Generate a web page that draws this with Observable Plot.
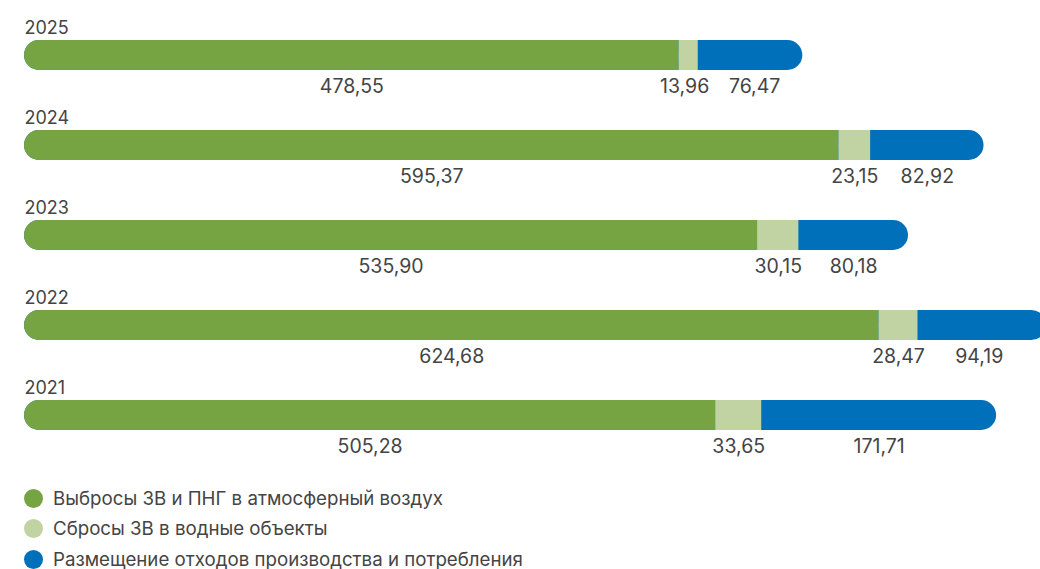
<!DOCTYPE html>
<html>
<head>
<meta charset="utf-8">
<script src="https://cdn.jsdelivr.net/npm/d3@7"></script>
<script src="https://cdn.jsdelivr.net/npm/@observablehq/plot@0.6"></script>
<style>
  html, body { margin: 0; padding: 0; background: #fff; overflow: hidden; }
  #chart { width: 1040px; }
  .legend { font-family: Inter, sans-serif; font-size: 18.7px; color: #444; padding-top: 21px; }
  .legend .item { display: flex; align-items: center; height: 30.5px; }
  .legend .dot { width: 19px; height: 19px; border-radius: 50%; margin-left: 24px; margin-right: 10px; flex: none; }
</style>
</head>
<body>
<div id="chart"></div>
<script>
const years = ["2025", "2024", "2023", "2022", "2021"];
const emissions = [478.55, 595.37, 535.90, 624.68, 505.28];
const discharges = [13.96, 23.15, 30.15, 28.47, 33.65];
const waste = [76.47, 82.92, 80.18, 94.19, 171.71];
const seriesNames = [
  "Выбросы ЗВ и ПНГ в атмосферный воздух",
  "Сбросы ЗВ в водные объекты",
  "Размещение отходов производства и потребления"
];
const colors = ["#76a443", "#c2d3a3", "#0070ba"];

const W = 1040, H = 462, ML = 24, MR = 0;
const xMax = 742.7;
const k = (W - ML - MR) / xMax; // px per unit
const fmt = v => v.toFixed(2).replace(".", ",");

const rows = years.map((year, i) => ({
  year,
  a: emissions[i],
  b: discharges[i],
  c: waste[i],
  total: emissions[i] + discharges[i] + waste[i]
}));

// value labels centered under visible part of each segment, nudged apart if too close
const labels = [];
for (const r of rows) {
  const segs = [
    [0, r.a, r.a],
    [r.a, r.a + r.b, r.b],
    [r.a + r.b, r.total, r.c]
  ].map(([x1, x2, v]) => ({ year: r.year, x: (x1 + Math.min(x2, xMax)) / 2, text: fmt(v) }));
  const wEst = s => s.text.length * 10.2;
  const minGap = 19;
  const gap = (segs[2].x - segs[1].x) * k - (wEst(segs[1]) + wEst(segs[2])) / 2;
  if (gap < minGap) {
    const shift = (minGap - gap) / 2 / k;
    segs[1].x -= shift;
    segs[2].x += shift;
  }
  labels.push(...segs);
}

const txt = "#444444";
const plot = Plot.plot({
  width: W,
  height: H,
  marginLeft: ML,
  marginRight: MR,
  marginTop: 38,
  marginBottom: 30,
  style: { fontFamily: "Inter, sans-serif", background: "#fff" },
  x: { domain: [0, xMax], axis: null },
  y: { domain: years, axis: null, paddingInner: 0.6703, paddingOuter: 0 },
  marks: [
    Plot.barX(rows, { y: "year", x1: 0, x2: "total", fill: colors[2], rx: 15, clip: true }),
    Plot.barX(rows, { y: "year", x1: 0, x2: "a", fill: colors[0], rx: 15 }),
    Plot.barX(rows, { y: "year", x1: d => d.a / 2, x2: "a", fill: colors[0] }),
    Plot.barX(rows, { y: "year", x1: "a", x2: d => d.a + d.b, fill: colors[1] }),
    Plot.text(rows, { y: "year", x: 0, text: "year", textAnchor: "start", lineAnchor: "bottom", dy: -22, fontSize: 18, fill: txt }),
    Plot.text(labels, { y: "year", x: "x", text: "text", textAnchor: "middle", lineAnchor: "bottom", dy: 37, fontSize: 19.5, fill: txt })
  ]
});
document.getElementById("chart").appendChild(plot);

const legend = document.createElement("div");
legend.className = "legend";
seriesNames.forEach((name, i) => {
  const item = document.createElement("div");
  item.className = "item";
  const dot = document.createElement("span");
  dot.className = "dot";
  dot.style.background = colors[i];
  const label = document.createElement("span");
  label.textContent = name;
  item.appendChild(dot);
  item.appendChild(label);
  legend.appendChild(item);
});
document.getElementById("chart").appendChild(legend);
</script>
</body>
</html>
